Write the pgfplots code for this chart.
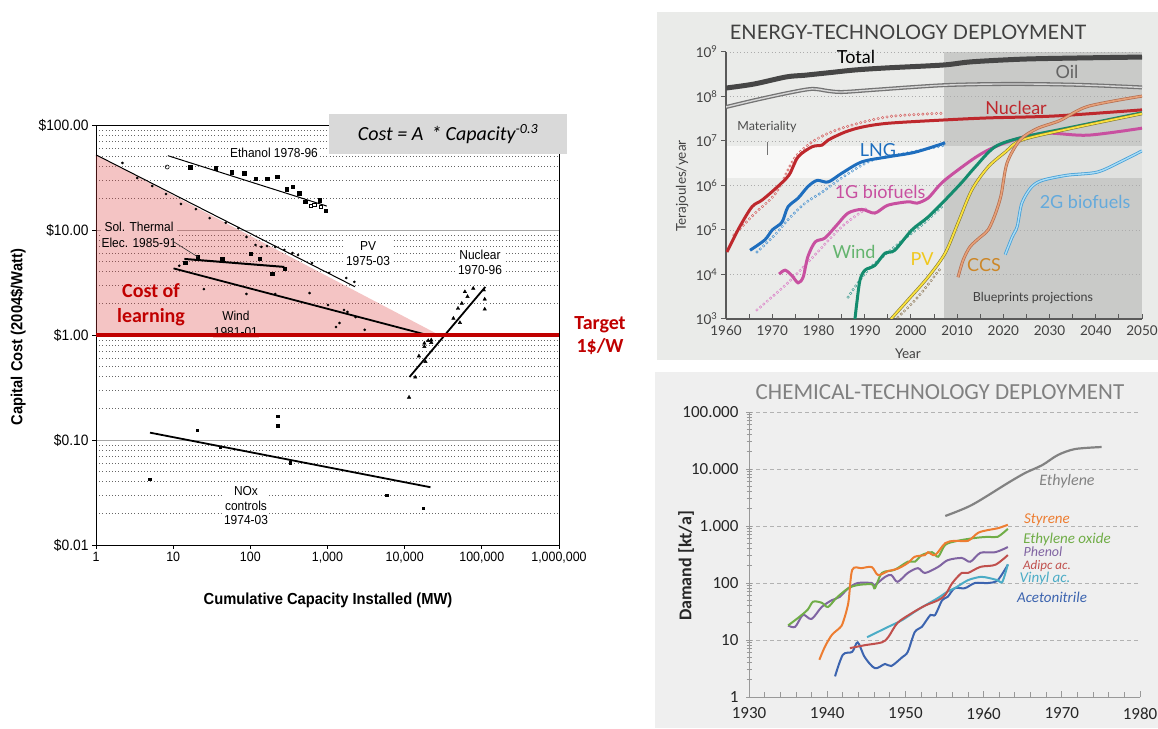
\documentclass[border=0pt]{standalone}
\usepackage{fontspec}
\setmainfont{Liberation Sans}
\newfontfamily\lsans[FakeStretch=0.92]{Liberation Sans}
\newfontfamily\carl{Carlito}
\newfontfamily\lato{Lato}
\usepackage{pgfplots}
\pgfplotsset{compat=1.18}
\usepackage{pgfplotstable}
\newcommand{\fs}[2]{\fontsize{#1}{#2}\selectfont}
\definecolor{tred}{RGB}{192,0,0}
\definecolor{pinkred}{RGB}{220,60,60}
\definecolor{pinkfill}{RGB}{244,196,196}
\definecolor{ebg}{RGB}{234,235,233}
\definecolor{ewhite}{RGB}{248,248,247}
\definecolor{edark}{RGB}{201,202,200}
\definecolor{eband}{RGB}{224,225,223}
\definecolor{egrey}{RGB}{90,90,90}
\definecolor{cbg}{RGB}{239,239,239}
\definecolor{nucred}{RGB}{190,40,45}
\definecolor{nucredh}{RGB}{215,100,100}
\definecolor{lngblue}{RGB}{30,110,190}
\definecolor{lngblueh}{RGB}{80,150,210}
\definecolor{bioa}{RGB}{200,80,160}
\definecolor{bioah}{RGB}{220,130,200}
\definecolor{windc}{RGB}{20,140,110}
\definecolor{windh}{RGB}{70,160,150}
\definecolor{pvy}{RGB}{250,225,60}
\definecolor{pvo}{RGB}{130,120,50}
\definecolor{pvh}{RGB}{150,130,100}
\definecolor{ccsi}{RGB}{230,160,120}
\definecolor{ccso}{RGB}{180,110,80}
\definecolor{biobo}{RGB}{70,160,215}
\definecolor{biobi}{RGB}{170,220,245}
\definecolor{cEthy}{RGB}{130,130,130}
\definecolor{cSty}{RGB}{237,125,49}
\definecolor{cEO}{RGB}{112,173,71}
\definecolor{cPhe}{RGB}{128,100,162}
\definecolor{cAdi}{RGB}{192,80,77}
\definecolor{cVin}{RGB}{75,172,198}
\definecolor{cAce}{RGB}{60,100,175}
\pgfplotsset{hist/.style={smooth, line width=3.2pt, dash pattern=on 0pt off 4.5pt, line cap=round}}
\begin{document}
% ---------- energy data ----------
\pgfplotstableread{
x y
1960 1.55e8
1966 1.9e8
1973 2.75e8
1977 3.0e8
1982 3.4e8
1988 3.95e8
1995 4.4e8
2007 5.1e8
2013 6.0e8
2024 6.9e8
2035 7.3e8
2050 7.7e8
}\eTotal
\pgfplotstableread{
x y
1960 5.8e7
1966.3 8.3e7
1973.4 1.2e8
1978.6 1.48e8
1982.1 1.33e8
1985.1 1.26e8
1991.6 1.4e8
1999.4 1.6e8
2007.4 1.8e8
2016.7 1.9e8
2027.5 1.9e8
2038.3 1.8e8
2050 1.6e8
}\eOil
\pgfplotstableread{
x y
1960.2 3.2e4
1962.8 1.1e5
1965.6 3.3e5
1967.8 4.7e5
1970.8 8.7e5
1973.6 1.7e6
1975.6 4.4e6
1978.6 7.4e6
1980.8 8.1e6
1982.1 1.05e7
1985.7 1.58e7
1989.4 2.05e7
1995 2.5e7
2006.7 2.95e7
2016.7 3.3e7
2031.2 3.65e7
2050 5e7
}\eNuc
\pgfplotstableread{
x y
1961.7 7.7e4
1966.3 2.4e5
1970.8 6.8e5
1974.9 4.2e6
1979.3 1.05e7
1985.1 1.95e7
1995 3.5e7
2006.7 4.2e7
}\eNucH
\pgfplotstableread{
x y
1965.2 3.5e4
1968.4 6e4
1970 1e5
1972.1 1.5e5
1973.4 3.3e5
1975.6 5.2e5
1977.7 9.4e5
1979.7 1.3e6
1982.1 1.2e6
1985.1 1.9e6
1989.4 3.4e6
1995 4.4e6
2000.9 5.6e6
2007.4 9.1e6
}\eLNG
\pgfplotstableread{
x y
1966.7 3.2e4
1970.6 7.8e4
1973.4 1.7e5
1977.1 4e5
1980.8 7.1e5
1985.1 1.5e6
1991.6 3.7e6
1999.4 5.4e6
2007.4 8.1e6
}\eLNGH
\pgfplotstableread{
x y
1971.5 1.02e4
1972.8 1.25e4
1974.3 9.3e3
1975.6 6.5e3
1976.7 8.8e3
1977.7 2.5e4
1979.3 5.4e4
1981.4 6.6e4
1984 1.3e5
1986.4 2.4e5
1989.4 2.9e5
1992.2 2.4e5
1995 3.6e5
1999.4 4.3e5
2001.3 4e5
2003.7 5.2e5
2005.9 9.4e5
2008 1.5e6
2014 4.3e6
2018.2 7.4e6
2024 1.2e7
2029.7 1.5e7
2038.3 1.35e7
2050 1.94e7
}\eBioA
\pgfplotstableread{
x y
1966.7 1.6e3
1973.4 6.5e3
1979.3 2.8e4
1985.1 1.2e5
1990.5 3.1e5
}\eBioAH
\pgfplotstableread{
x y
1987.9 1e3
1988.3 2.3e3
1989 7.6e3
1990.1 1.26e4
1992.2 1.6e4
1994.4 3e4
1996.5 3.5e4
2000.2 1e5
2003.7 1.95e5
2007.4 4.7e5
2011.1 1.2e6
2013.9 2.6e6
2018.2 7.4e6
2024 1.2e7
2034.9 2.05e7
2050 4.3e7
}\eWind
\pgfplotstableread{
x y
1986.4 3.1e3
1990.7 1.26e4
1996.5 4.2e4
2002.4 1.3e5
2007 3.6e5
}\eWindH
\pgfplotstableread{
x y
1995.7 1e3
1999.4 2.7e3
2003.7 8.7e3
2007.4 3e4
2010.2 1.45e5
2013.2 8e5
2016.7 2.6e6
2020.4 5.6e6
2024 1.05e7
2034.9 1.94e7
2050 4.1e7
}\ePV
\pgfplotstableread{
x y
1997.2 1.1e3
2001.5 3.1e3
2006.7 1.5e4
}\ePVH
\pgfplotstableread{
x y
2010.2 8.7e3
2011.3 2.1e4
2012.8 4.2e4
2015 6.9e4
2016.7 1e5
2018.2 2.2e5
2019.5 6e5
2020.8 3.2e6
2023.6 1.05e7
2027.3 1.9e7
2032.3 2.9e7
2038.3 6e7
2050 1.02e8
}\eCCS
\pgfplotstableread{
x y
2020.4 2.8e4
2021.9 6.9e4
2023 1.2e5
2024 4e5
2026 9e5
2028.4 1.3e6
2033.8 1.7e6
2040.3 2e6
2045.3 3.4e6
2050 6e6
}\eBioB
% ---------- chemical data ----------
\pgfplotstableread{
x y
1955.1 1500
1958.5 2340
1963.1 5680
1965.3 8500
1967.5 11700
1969.5 17600
1971.7 22400
1975.1 24300
}\cEthylene
\pgfplotstableread{
x y
1939 4.5
1939.7 7.6
1940.6 12.3
1941.6 16.3
1942 20
1942.7 45
1943.2 170
1944.4 182
1945.7 190
1946.5 138
1947.8 162
1949 178
1950.3 224
1951.2 289
1952.5 309
1952.9 347
1953.8 309
1955.1 501
1956.3 550
1958 550
1959.3 760
1960.6 851
1961.8 912
1963.1 1050
}\cStyrene
\pgfplotstableread{
x y
1935 18
1936.3 24.6
1937.5 34
1938.2 47
1939.3 45
1940.1 38
1941.2 55
1942.7 81
1943.9 92
1945.7 95
1946.1 81
1947 150
1948.6 170
1950.3 236
1951.2 236
1952.1 309
1953.4 347
1954.2 289
1955.1 468
1956.7 550
1958.9 617
1960.6 646
1961.8 646
1963.1 891
}\cEO
\pgfplotstableread{
x y
1935 18
1935.9 17
1936.9 27.5
1938 23.4
1939.3 38
1940.6 50
1941.6 57
1942.7 81
1943.9 100
1945.7 100
1946.1 92
1947.4 128
1948.2 138
1949 105
1950.3 150
1951.6 182
1952.5 150
1954.2 192
1955.4 251
1957.2 275
1958.3 236
1959.6 339
1961.5 347
1963.1 427
}\cPhenol
\pgfplotstableread{
x y
1942.9 7.2
1944.8 8.1
1947 9.1
1947.8 11.2
1949 20
1950.8 29.5
1952.5 40
1954.2 50
1955.1 62
1956 100
1957.2 150
1958 150
1959.6 192
1961.5 209
1963.1 309
}\cAdipic
\pgfplotstableread{
x y
1945.1 11.2
1947.8 17
1949.6 22.4
1951.6 34
1954.2 55
1955.4 71
1956.3 81
1958 112
1959.6 128
1960.6 123
1961.8 112
1962.4 105
1963.1 214
}\cVinyl
\pgfplotstableread{
x y
1941 2.3
1942 5.5
1943.2 6.2
1943.9 9.1
1944.8 5.0
1946.1 3.2
1947.4 3.8
1948.2 3.5
1949.6 5.0
1950.3 6.2
1951.2 13.8
1952.1 17
1953.2 27.5
1953.8 27.5
1954.7 50
1955.4 57
1956.3 81
1957.6 81
1958.9 100
1960.6 100
1961.8 112
1963.1 209
}\cAceto
\begin{tikzpicture}[x=1pt,y=1pt]
\path[use as bounding box] (0,0) rectangle (1158,728);
\fill[white] (0,0) rectangle (1158,728);
% energy panel backgrounds
\fill[ebg] (657,368) rectangle (1158,716);
\fill[ewhite] (726,550) rectangle (944,582);
\fill[edark] (944,582) rectangle (1142,676);
\fill[eband] (944,550) rectangle (1142,582);
\fill[edark] (944,409) rectangle (1142,550);
% chemical panel background
\fill[cbg] (655,0) rectangle (1158,356);

% ================= LEFT: learning curves =================
\begin{axis}[
  at={(96pt,183pt)}, anchor=south west, scale only axis,
  width=463pt, height=420pt,
  xmode=log, ymode=log, xmin=1, xmax=1e6, ymin=0.01, ymax=100,
  xtick={1,10,100,1000,10000,100000,1000000},
  xticklabels={1,10,100,{1,000},{10,000},{100,000},{1,000,000}},
  ytick={0.01,0.1,1,10,100},
  yticklabels={\$0.01,\$0.10,\$1.00,\$10.00,\$100.00},
  xminorticks=false,
  xtick pos=left, ytick pos=left,
  tick align=outside,
  major tick length=4pt, minor tick length=0pt,
  ymajorgrids, yminorgrids,
  major grid style={draw=gray!70, line width=0.8pt},
  minor grid style={draw=black!60, line width=0.6pt, dash pattern=on 1pt off 2.2pt},
  axis line style={draw=black, line width=0.9pt},
  tick style={draw=black, line width=0.8pt},
  xticklabel style={font=\lsans\fs{13.5}{16}},
  yticklabel style={font=\lsans\fs{15}{18}},
]
\addplot[draw=none, fill=pinkred, fill opacity=0.3] coordinates {(1,52) (28000,1) (1,1) (1,52)};
% PV
\addplot[black, line width=1pt] coordinates {(1,52) (2270,2.88)};
\addplot[only marks, mark=*, mark size=1.1pt, black] coordinates {
(2.2,43.5)(3.43,31.3)(5.36,26.2)(8.09,22)(12.6,17.7)(19.7,15.8)(29.7,13)(48,11.7)(70,10.4)(89,8.58)(117,7.2)(139,6.9)(165,7.04)(210,6.9)(276,6.46)(351,6.04)(416,5.78)(628,4.85)(1050,3.9)(1750,3.49)(2230,3.2)};
% Ethanol
\addplot[black, line width=1pt] coordinates {(8.55,51) (980,16.9)};
\addplot[only marks, mark=square*, mark size=1.7pt, black] coordinates {
(16.6,39.8)(35.3,38.9)(57,35.6)(83,34.9)(117,30.6)(165,30.6)(224,32)(295,24.5)(351,25.7)(430,22.5)(511,18.5)(947,15.2)(798,19.3)};
\addplot[only marks, mark=square, mark size=1.7pt, black, line width=0.6pt] coordinates {(606,16.9)(672,17.3)(826,16.6)};
\addplot[only marks, mark=o, mark size=2pt, black, line width=0.6pt] coordinates {(8.37,39.8)};
% Solar thermal
\addplot[black, line width=2pt] coordinates {(14,5.3) (276,4.45)};
\addplot[only marks, mark=square*, mark size=1.6pt, black] coordinates {(14.3,4.89)(20.8,5.57)(43.1,5.37)(102,5.9)(131,5.3)(192,3.81)(276,4.31)};
% Wind
\addplot[black, line width=1.8pt] coordinates {(10.1,4.31) (19700,1.0)};
\addplot[only marks, mark=*, mark size=1.1pt, black] coordinates {(12,4.57)(25,2.74)(89,2.46)(210,2.46)(586,2.51)(1014,1.93)(1637,1.73)(1815,1.66)(2307,1.48)(1288,1.19)(1430,1.3)(3035,1.12)};
% Nuclear
\addplot[black, line width=1.8pt] coordinates {(11550,0.398) (111000,2.87)};
\addplot[only marks, mark=triangle*, mark size=2pt, black] coordinates {
(60300,2.58)(77400,2.78)(106000,2.68)(109000,2.19)(109000,1.76)(65200,2.32)(55000,2.0)(49100,1.79)(42800,1.44)(52000,1.31)(22100,0.895)(20200,0.883)(18000,0.775)(18000,0.834)(22100,0.846)(15300,0.63)(18600,0.557)(13700,0.396)(11400,0.255)};
% NOx
\addplot[black, line width=1.8pt] coordinates {(5.01,0.1175) (21600,0.0355)};
\addplot[only marks, mark=square*, mark size=1.3pt, black] coordinates {(5,0.0425)(20.4,0.124)(40.5,0.0857)(225,0.169)(225,0.136)(327,0.0604)(5820,0.0299)(17400,0.0225)};
\node[font={\lsans\fs{13}{16}}, fill=pinkfill, align=center, inner sep=1pt] at (axis cs:65,1.27) {Wind\\1981-01};
% target line
\addplot[tred, line width=4pt] coordinates {(1,1) (1e6,1)};
\end{axis}

% left panel labels
\node[font={\lsans\fs{13}{15}}, fill=white, inner sep=1.5pt] at (274,575) {Ethanol 1978-96};
\node[font={\lsans\fs{13}{16}}, fill=pinkfill, align=center, inner sep=1pt] at (139,493) {Sol. Thermal\\Elec. 1985-91};
\draw[black!80, line width=0.6pt] (174,486) -- (198,471);
\node[font={\lsans\fs{13}{15}}, fill=white, align=center, inner sep=1.5pt] at (368,474) {PV\\1975-03};
\node[font={\lsans\fs{13}{15}}, fill=white, align=center, inner sep=1.5pt] at (480,466) {Nuclear\\1970-96};
\node[font={\lsans\fs{13}{14.5}}, fill=white, align=center, inner sep=1.5pt] at (246,222) {NOx\\controls\\1974-03};
\node[text=tred, font={\carl\bfseries\fs{20}{25}}, align=center] at (151,423) {Cost of\\learning};
\node[text=tred, font={\carl\bfseries\fs{20}{23}}, align=center] at (600,392) {Target\\1\$/W};
\node[fill={rgb,255:red,217;green,217;blue,217}, minimum width=238pt, minimum height=40pt, inner sep=0pt, font={\carl\itshape\fs{20}{24}}] at (448,594) {Cost = A \,* Capacity\textsuperscript{-0.3}};
\node[rotate=90, font={\lsans\bfseries\fs{16}{18}}] at (18,391) {Capital Cost (2004\$/Watt)};
\node[font={\lsans\bfseries\fs{16}{18}}] at (328,128) {Cumulative Capacity Installed (MW)};

% ================= TOP RIGHT: energy =================
\begin{axis}[
  at={(726pt,409pt)}, anchor=south west, scale only axis,
  width=416pt, height=267pt,
  xmin=1960, xmax=2050, ymode=log, ymin=1e3, ymax=1e9,
  axis x line*=bottom, axis y line*=left,
  axis line style={-, draw=egrey, line width=1.2pt},
  xtick={1960,1970,1980,1990,2000,2010,2020,2030,2040,2050},
  xticklabels={1960,1970,1980,1990,2000,2010,2020,2030,2040,2050},
  minor xtick={1965,1975,1985,1995,2005,2015,2025,2035,2045},
  ytick={1e3,1e4,1e5,1e6,1e7,1e8,1e9},
  yticklabels={10\textsuperscript{3},10\textsuperscript{4},10\textsuperscript{5},10\textsuperscript{6},10\textsuperscript{7},10\textsuperscript{8},10\textsuperscript{9}},
  yminorticks=false,
  ymajorgrids, major grid style={draw=gray!65, line width=0.8pt, dash pattern=on 1pt off 2.5pt},
  xtick align=inside, ytick align=outside,
  major tick length=5pt, minor tick length=5pt,
  tick style={draw=egrey, line width=1pt},
  tick label style={font={\lato\fs{13.5}{16}}, text=black!75},
  xticklabel style={yshift=-3pt},
]
\addplot[hist, draw=nucredh] table {\eNucH};
\addplot[hist, line width=1.4pt, draw=ebg] table {\eNucH};
\addplot[hist, draw=lngblueh] table {\eLNGH};
\addplot[hist, line width=1.4pt, draw=ebg] table {\eLNGH};
\addplot[hist, draw=bioah] table {\eBioAH};
\addplot[hist, line width=1.4pt, draw=ebg] table {\eBioAH};
\addplot[hist, draw=windh] table {\eWindH};
\addplot[hist, line width=1.4pt, draw=ebg] table {\eWindH};
\addplot[hist, draw=pvh] table {\ePVH};
\addplot[hist, line width=1.4pt, draw=ebg] table {\ePVH};
\addplot[smooth, draw={rgb,255:red,70;green,70;blue,70}, line width=5pt] table {\eTotal};
\addplot[smooth, draw={rgb,255:red,115;green,115;blue,115}, line width=4pt] table {\eOil};
\addplot[smooth, draw={rgb,255:red,215;green,215;blue,215}, line width=1.4pt] table {\eOil};
\addplot[smooth, draw=nucred, line width=3pt] table {\eNuc};
\addplot[smooth, draw=lngblue, line width=3pt] table {\eLNG};
\addplot[smooth, draw=bioa, line width=3pt] table {\eBioA};
\addplot[smooth, draw=windc, line width=3pt] table {\eWind};
\addplot[smooth, draw=pvo, line width=3pt] table {\ePV};
\addplot[smooth, draw=pvy, line width=1.8pt] table {\ePV};
\addplot[smooth, draw=ccso, line width=3pt] table {\eCCS};
\addplot[smooth, draw=ccsi, line width=1.6pt] table {\eCCS};
\addplot[smooth, draw=biobo, line width=3pt] table {\eBioB};
\addplot[smooth, draw=biobi, line width=1.4pt] table {\eBioB};
\end{axis}
\node[font={\lato\fs{20}{24}}, text=black!75] at (908,696) {ENERGY-TECHNOLOGY DEPLOYMENT};
\node[font={\lato\fs{13.5}{16}}, text=black!75, rotate=90] at (682,542) {Terajoules/year};
\node[font={\lato\fs{13.5}{16}}, text=black!75] at (908,374) {Year};
\node[font={\lato\fs{18}{20}}, text=black] at (856,671) {Total};
\node[font={\lato\fs{18}{20}}, text={rgb,255:red,100;green,100;blue,100}] at (1067,656) {Oil};
\node[font={\lato\fs{18}{20}}, text=nucred] at (1016,620) {Nuclear};
\node[font={\lato\fs{12.5}{15}}, text=black!70] at (767,601) {Materiality};
\draw[black!55, line width=0.8pt] (767,586) -- (767,573);
\node[font={\lato\fs{18}{20}}, text=lngblue] at (878,578) {LNG};
\node[font={\lato\fs{18}{20}}, text=bioa] at (880,536) {1G biofuels};
\node[font={\lato\fs{18}{20}}, text={rgb,255:red,100;green,180;blue,110}] at (854,476) {Wind};
\node[font={\lato\fs{18}{20}}, text={rgb,255:red,240;green,200;blue,30}] at (922,469) {PV};
\node[font={\lato\fs{18}{20}}, text={rgb,255:red,205;green,135;blue,40}] at (984,463) {CCS};
\node[font={\lato\fs{18}{20}}, text={rgb,255:red,100;green,170;blue,220}] at (1085,526) {2G biofuels};
\node[font={\lato\fs{12.5}{15}}, text=black!75] at (1033,430) {Blueprints projections};

% ================= BOTTOM RIGHT: chemical =================
\begin{axis}[
  at={(749pt,31pt)}, anchor=south west, scale only axis,
  width=391pt, height=285pt,
  xmin=1930, xmax=1980, ymode=log, ymin=1, ymax=1e5,
  axis x line*=bottom, axis y line*=left,
  axis line style={-, draw=gray!80, line width=1pt},
  xtick={1930,1940,1950,1960,1970,1980},
  xticklabels={1930,1940,1950,1960,1970,1980},
  minor x tick num=4,
  ytick={1,10,100,1000,10000,100000},
  yticklabels={1,10,100,1.000,10.000,100.000},
  ymajorgrids, major grid style={draw=gray!60, line width=0.8pt, dash pattern=on 4pt off 3pt},
  xtick align=inside, ytick align=center,
  major tick length=6pt, minor tick length=5pt,
  tick style={draw=gray!80, line width=0.8pt},
  tick label style={font={\carl\fs{17}{20}}, text=black!85},
  xticklabel style={yshift=-7pt},
  yticklabel style={xshift=-4pt},
]
\addplot[smooth, draw=cEthy, line width=2.2pt] table {\cEthylene};
\addplot[smooth, draw=cAce, line width=2pt] table {\cAceto};
\addplot[smooth, draw=cVin, line width=2pt] table {\cVinyl};
\addplot[smooth, draw=cAdi, line width=2pt] table {\cAdipic};
\addplot[smooth, draw=cPhe, line width=2pt] table {\cPhenol};
\addplot[smooth, draw=cEO, line width=2pt] table {\cEO};
\addplot[smooth, draw=cSty, line width=2pt] table {\cStyrene};
\end{axis}
\node[font={\carl\fs{23}{26}}, text=gray] at (940,336) {CHEMICAL-TECHNOLOGY DEPLOYMENT};
\node[font={\carl\bfseries\fs{18}{20}}, text=black!85, rotate=90] at (686,162) {Damand [kt/a]};
\node[font={\carl\itshape\fs{16}{18}}, text=cEthy] at (1067,247) {Ethylene};
\node[font={\carl\itshape\fs{15}{18}}, text=cSty] at (1047,208) {Styrene};
\node[font={\carl\itshape\fs{15}{18}}, text=cEO, inner sep=0pt] at (1067,188) {Ethylene oxide};
\node[font={\carl\itshape\fs{14}{16}}, text=cPhe, inner sep=0pt] at (1043,176) {Phenol};
\node[font={\carl\itshape\fs{13}{15}}, text=cAdi, inner sep=0pt] at (1047,162.3) {Adipc ac.};
\node[font={\carl\itshape\fs{15}{18}}, text=cVin, inner sep=0pt] at (1045,149) {Vinyl ac.};
\node[font={\carl\itshape\fs{15}{18}}, text=cAce] at (1052,131) {Acetonitrile};
\end{tikzpicture}
\end{document}
